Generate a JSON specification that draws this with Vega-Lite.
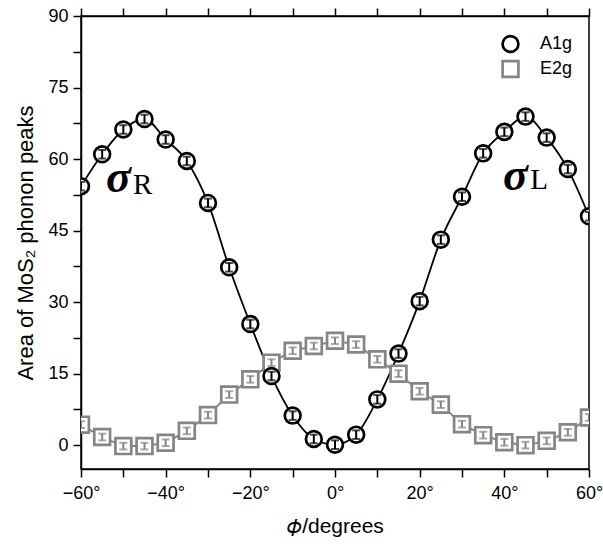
{
  "$schema": "https://vega.github.io/schema/vega-lite/v6.json",
  "width": 508,
  "height": 453,
  "autosize": {"type": "none"},
  "padding": {"left": 81, "top": 16, "right": 14, "bottom": 79},
  "background": "white",
  "config": {
    "font": "Liberation Sans",
    "view": {"stroke": "black", "strokeWidth": 1.5},
    "axis": {
      "grid": false,
      "domainColor": "black",
      "domainWidth": 1.5,
      "tickColor": "black",
      "tickWidth": 1.5,
      "labelColor": "black",
      "titleColor": "black",
      "labelFont": "Liberation Sans",
      "titleFont": "Liberation Sans",
      "labelFontSize": 18,
      "titleFontWeight": "normal",
      "labelFlush": false,
      "labelOverlap": false
    }
  },
  "datasets": {
    "pts": [
      {"phi": -60, "area": 4.3, "err": 0.7, "series": "E2g"},
      {"phi": -55, "area": 1.7, "err": 0.7, "series": "E2g"},
      {"phi": -50, "area": -0.2, "err": 0.7, "series": "E2g"},
      {"phi": -45, "area": -0.2, "err": 0.7, "series": "E2g"},
      {"phi": -40, "area": 0.5, "err": 0.7, "series": "E2g"},
      {"phi": -35, "area": 3.0, "err": 0.7, "series": "E2g"},
      {"phi": -30, "area": 6.3, "err": 0.7, "series": "E2g"},
      {"phi": -25, "area": 10.6, "err": 0.7, "series": "E2g"},
      {"phi": -20, "area": 13.8, "err": 0.7, "series": "E2g"},
      {"phi": -15, "area": 17.3, "err": 0.7, "series": "E2g"},
      {"phi": -10, "area": 19.8, "err": 0.7, "series": "E2g"},
      {"phi": -5, "area": 20.8, "err": 0.7, "series": "E2g"},
      {"phi": 0, "area": 21.9, "err": 0.7, "series": "E2g"},
      {"phi": 5, "area": 21.1, "err": 0.7, "series": "E2g"},
      {"phi": 10, "area": 18.0, "err": 0.7, "series": "E2g"},
      {"phi": 15, "area": 15.0, "err": 0.7, "series": "E2g"},
      {"phi": 20, "area": 11.3, "err": 0.7, "series": "E2g"},
      {"phi": 25, "area": 8.5, "err": 0.7, "series": "E2g"},
      {"phi": 30, "area": 4.4, "err": 0.7, "series": "E2g"},
      {"phi": 35, "area": 2.1, "err": 0.7, "series": "E2g"},
      {"phi": 40, "area": 0.6, "err": 0.7, "series": "E2g"},
      {"phi": 45, "area": 0.0, "err": 0.7, "series": "E2g"},
      {"phi": 50, "area": 0.9, "err": 0.7, "series": "E2g"},
      {"phi": 55, "area": 2.7, "err": 0.7, "series": "E2g"},
      {"phi": 60, "area": 5.8, "err": 0.7, "series": "E2g"},
      {"phi": -60, "area": 54.3, "err": 0.9, "series": "A1g"},
      {"phi": -55, "area": 61.0, "err": 0.9, "series": "A1g"},
      {"phi": -50, "area": 66.2, "err": 0.9, "series": "A1g"},
      {"phi": -45, "area": 68.4, "err": 0.9, "series": "A1g"},
      {"phi": -40, "area": 64.1, "err": 0.9, "series": "A1g"},
      {"phi": -35, "area": 59.6, "err": 0.9, "series": "A1g"},
      {"phi": -30, "area": 50.8, "err": 0.9, "series": "A1g"},
      {"phi": -25, "area": 37.3, "err": 0.9, "series": "A1g"},
      {"phi": -20, "area": 25.4, "err": 0.9, "series": "A1g"},
      {"phi": -15, "area": 14.5, "err": 0.9, "series": "A1g"},
      {"phi": -10, "area": 6.2, "err": 0.9, "series": "A1g"},
      {"phi": -5, "area": 1.3, "err": 0.9, "series": "A1g"},
      {"phi": 0, "area": 0.1, "err": 0.9, "series": "A1g"},
      {"phi": 5, "area": 2.2, "err": 0.9, "series": "A1g"},
      {"phi": 10, "area": 9.6, "err": 0.9, "series": "A1g"},
      {"phi": 15, "area": 19.2, "err": 0.9, "series": "A1g"},
      {"phi": 20, "area": 30.2, "err": 0.9, "series": "A1g"},
      {"phi": 25, "area": 43.1, "err": 0.9, "series": "A1g"},
      {"phi": 30, "area": 52.1, "err": 0.9, "series": "A1g"},
      {"phi": 35, "area": 61.2, "err": 0.9, "series": "A1g"},
      {"phi": 40, "area": 65.7, "err": 0.9, "series": "A1g"},
      {"phi": 45, "area": 68.9, "err": 0.9, "series": "A1g"},
      {"phi": 50, "area": 64.5, "err": 0.9, "series": "A1g"},
      {"phi": 55, "area": 57.9, "err": 0.9, "series": "A1g"},
      {"phi": 60, "area": 48.0, "err": 0.9, "series": "A1g"}
    ],
    "sigma": [
      {"phi": -54.1, "area": 53.1, "t": "σ"},
      {"phi": 39.7, "area": 53.5, "t": "σ"}
    ],
    "sub": [
      {"phi": -47.7, "area": 52.7, "t": "R"},
      {"phi": 46.1, "area": 53.7, "t": "L"}
    ]
  },
  "layer": [
    {
      "data": {"name": "pts"},
      "encoding": {
        "x": {
          "field": "phi",
          "type": "quantitative",
          "scale": {"domain": [-60, 60], "nice": false, "zero": false},
          "axis": {
            "orient": "bottom",
            "values": [-60, -50, -40, -30, -20, -10, 0, 10, 20, 30, 40, 50, 60],
            "tickSize": 8,
            "labelPadding": 7,
            "labelExpr": "datum.value % 20 === 0 ? (datum.value < 0 ? '−' + (-datum.value) : '' + datum.value) + '°' : ''",
            "title": "𝜙/degrees",
            "titleFontSize": 21,
            "titlePadding": 13,
            "encode": {"ticks": {"update": {"y2": {"signal": "datum.value % 20 === 0 ? 8 : 3"}}}}
          }
        },
        "y": {
          "field": "area",
          "type": "quantitative",
          "scale": {"domain": [-5, 90], "nice": false, "zero": false},
          "axis": {
            "orient": "left",
            "values": [0, 7.5, 15, 22.5, 30, 37.5, 45, 52.5, 60, 67.5, 75, 82.5, 90],
            "tickSize": 8,
            "labelPadding": 5,
            "labelExpr": "datum.value % 15 === 0 ? datum.label : ''",
            "title": "Area of MoS₂ phonon peaks",
            "titleFontSize": 22,
            "titlePadding": 10,
            "encode": {"ticks": {"update": {"x2": {"signal": "datum.value % 15 === 0 ? -8 : -4"}}}}
          }
        }
      },
      "layer": [
        {
          "transform": [{"filter": "datum.series === 'E2g'"}],
          "mark": {"type": "line", "color": "#858585", "strokeWidth": 2, "clip": true}
        },
        {
          "transform": [{"filter": "datum.series === 'A1g'"}],
          "mark": {"type": "line", "color": "black", "strokeWidth": 1.8, "interpolate": "monotone", "clip": true}
        },
        {
          "mark": {"type": "point", "filled": false, "fill": "white", "fillOpacity": 1, "strokeWidth": 2.7, "opacity": 1, "size": 250, "clip": true},
          "encoding": {
            "shape": {
              "field": "series",
              "type": "nominal",
              "scale": {"domain": ["A1g", "E2g"], "range": ["circle", "square"]},
              "legend": {
                "title": null,
                "orient": "top-right",
                "offset": 16,
                "padding": 0,
                "labelFont": "Liberation Sans",
                "labelFontSize": 18,
                "symbolSize": 250,
                "symbolStrokeWidth": 2.7,
                "symbolFillColor": "white",
                "labelOffset": 20,
                "rowPadding": 1,
                "clipHeight": 24,
                "encode": {
                  "symbols": {"update": {"fill": {"value": "white"}}},
                  "labels": {"update": {"fill": {"signal": "datum.label === 'E2g' ? '#a8a8a8' : 'black'"}}}
                }
              }
            },
            "stroke": {
              "field": "series",
              "type": "nominal",
              "scale": {"domain": ["A1g", "E2g"], "range": ["black", "#858585"]},
              "legend": {
                "title": null,
                "orient": "top-right",
                "offset": 16,
                "padding": 0,
                "labelFont": "Liberation Sans",
                "labelFontSize": 18,
                "symbolSize": 250,
                "symbolStrokeWidth": 2.7,
                "symbolFillColor": "white",
                "labelOffset": 20,
                "rowPadding": 1,
                "clipHeight": 24,
                "encode": {
                  "symbols": {"update": {"fill": {"value": "white"}}},
                  "labels": {"update": {"fill": {"signal": "datum.label === 'E2g' ? '#a8a8a8' : 'black'"}}}
                }
              }
            }
          }
        },
        {
          "transform": [{"filter": "datum.series === 'E2g'"}],
          "mark": {"type": "errorbar", "color": "#858585", "ticks": {"size": 8, "thickness": 2}, "thickness": 2, "clip": true},
          "encoding": {"yError": {"field": "err"}}
        },
        {
          "transform": [{"filter": "datum.series === 'A1g'"}],
          "mark": {"type": "errorbar", "color": "black", "ticks": {"size": 8, "thickness": 2}, "thickness": 2, "clip": true},
          "encoding": {"yError": {"field": "err"}}
        }
      ]
    },
    {
      "data": {"name": "sigma"},
      "mark": {"type": "text", "font": "Liberation Serif", "fontStyle": "italic", "fontWeight": "bold", "fontSize": 46, "align": "left", "baseline": "alphabetic", "color": "black"},
      "encoding": {
        "x": {
          "field": "phi",
          "type": "quantitative",
          "scale": {"domain": [-60, 60], "nice": false, "zero": false},
          "axis": {
            "orient": "top",
            "values": [-60, -50, -40, -30, -20, -10, 0, 10, 20, 30, 40, 50, 60],
            "tickSize": 8,
            "labels": false,
            "title": null,
            "encode": {"ticks": {"update": {"y2": {"signal": "datum.value % 20 === 0 ? -8 : -3"}}}}
          }
        },
        "y": {
          "field": "area",
          "type": "quantitative",
          "scale": {"domain": [-5, 90], "nice": false, "zero": false},
          "axis": null
        },
        "text": {"field": "t"}
      }
    },
    {
      "data": {"name": "sub"},
      "mark": {"type": "text", "font": "Liberation Serif", "fontSize": 29, "align": "left", "baseline": "alphabetic", "color": "black"},
      "encoding": {
        "x": {
          "field": "phi",
          "type": "quantitative",
          "scale": {"domain": [-60, 60], "nice": false, "zero": false},
          "axis": null
        },
        "y": {
          "field": "area",
          "type": "quantitative",
          "scale": {"domain": [-5, 90], "nice": false, "zero": false},
          "axis": null
        },
        "text": {"field": "t"}
      }
    }
  ],
  "resolve": {"axis": {"x": "independent", "y": "independent"}}
}
